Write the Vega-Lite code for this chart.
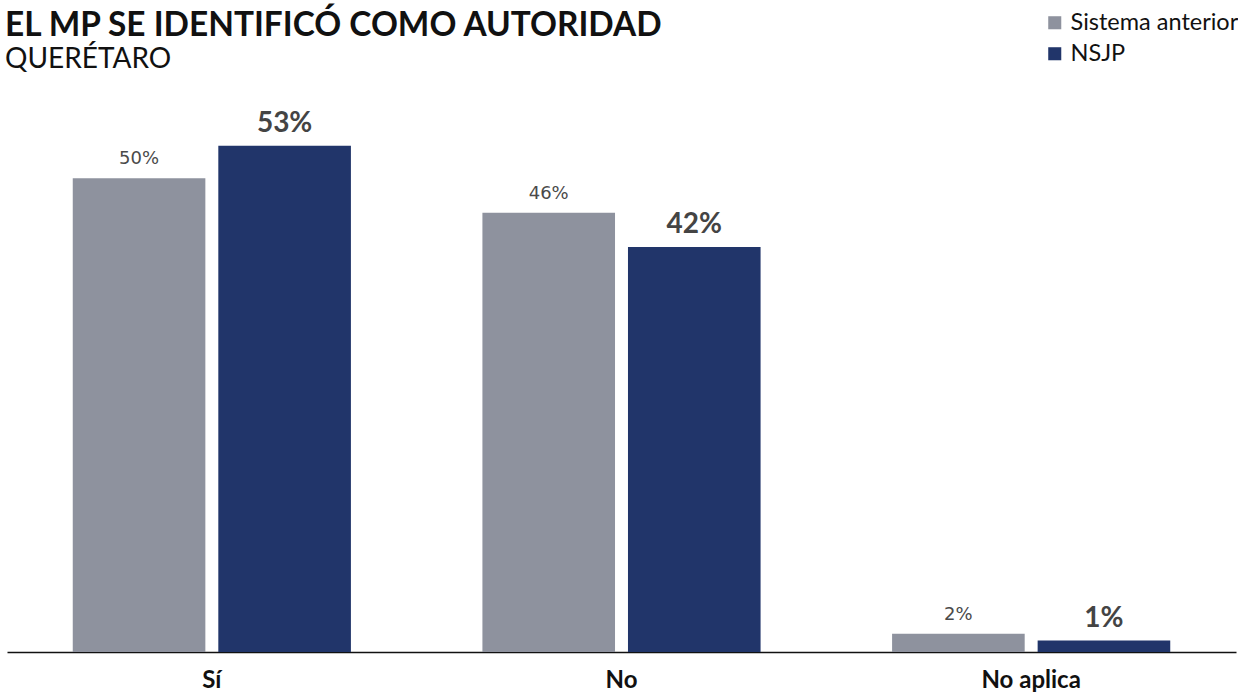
{
  "$schema": "https://vega.github.io/schema/vega-lite/v6.json",
  "autosize": {"type": "none"},
  "width": 1229,
  "height": 573,
  "padding": {"left": 7, "top": 79, "right": 2, "bottom": 40},
  "background": "white",
  "title": {
    "text": "EL MP SE IDENTIFICÓ COMO AUTORIDAD",
    "subtitle": "QUERÉTARO",
    "anchor": "start",
    "frame": "group",
    "orient": "top",
    "offset": -64,
    "dx": -2,
    "font": "Lato",
    "fontSize": 33.4,
    "fontWeight": "bold",
    "color": "#111111",
    "subtitleFont": "Lato",
    "subtitleFontSize": 28,
    "subtitleFontWeight": "normal",
    "subtitleColor": "#111111",
    "subtitlePadding": 3
  },
  "data": {
    "values": [
      {"categoria": "Sí", "serie": "Sistema anterior", "valor": 0.496},
      {"categoria": "Sí", "serie": "NSJP", "valor": 0.53},
      {"categoria": "No", "serie": "Sistema anterior", "valor": 0.46},
      {"categoria": "No", "serie": "NSJP", "valor": 0.424},
      {"categoria": "No aplica", "serie": "Sistema anterior", "valor": 0.019},
      {"categoria": "No aplica", "serie": "NSJP", "valor": 0.012}
    ]
  },
  "encoding": {
    "x": {
      "field": "categoria",
      "type": "nominal",
      "sort": ["Sí", "No", "No aplica"],
      "scale": {"paddingInner": 0.321, "paddingOuter": 0.1605},
      "axis": {
        "title": null,
        "labelAngle": 0,
        "labelFont": "Lato",
        "labelFontSize": 24,
        "labelFontWeight": "bold",
        "labelColor": "#111111",
        "labelPadding": 16,
        "ticks": false,
        "domainColor": "#111111",
        "domainWidth": 1.5,
        "grid": false
      }
    },
    "xOffset": {
      "field": "serie",
      "type": "nominal",
      "sort": ["Sistema anterior", "NSJP"],
      "scale": {"paddingInner": 0.089, "paddingOuter": 0}
    },
    "y": {
      "field": "valor",
      "type": "quantitative",
      "scale": {"domain": [0, 0.6], "nice": false},
      "axis": null
    }
  },
  "layer": [
    {
      "mark": {"type": "bar"},
      "encoding": {
        "color": {
          "field": "serie",
          "type": "nominal",
          "scale": {"domain": ["Sistema anterior", "NSJP"], "range": ["#8e929e", "#21356a"]},
          "legend": {
            "title": null,
            "orient": "none",
            "legendX": 1036,
            "legendY": -68,
            "symbolType": "square",
            "symbolSize": 170,
            "symbolStrokeWidth": 0,
            "labelFont": "Lato",
            "labelFontSize": 23.5,
            "labelColor": "#111111",
            "labelOffset": 4,
            "labelLimit": 400,
            "rowPadding": 6
          }
        }
      }
    },
    {
      "transform": [{"filter": "datum.serie === 'Sistema anterior'"}],
      "mark": {"type": "text", "baseline": "bottom", "dy": -10, "font": "DejaVu Sans", "fontSize": 18, "letterSpacing": 1, "color": "#4a4a4a"},
      "encoding": {"text": {"field": "valor", "type": "quantitative", "format": ".0%"}}
    },
    {
      "transform": [{"filter": "datum.serie === 'NSJP'"}],
      "mark": {"type": "text", "baseline": "bottom", "dy": -8, "font": "Lato", "fontSize": 28, "fontWeight": "bold", "color": "#444444"},
      "encoding": {"text": {"field": "valor", "type": "quantitative", "format": ".0%"}}
    }
  ],
  "config": {"view": {"stroke": null}}
}
